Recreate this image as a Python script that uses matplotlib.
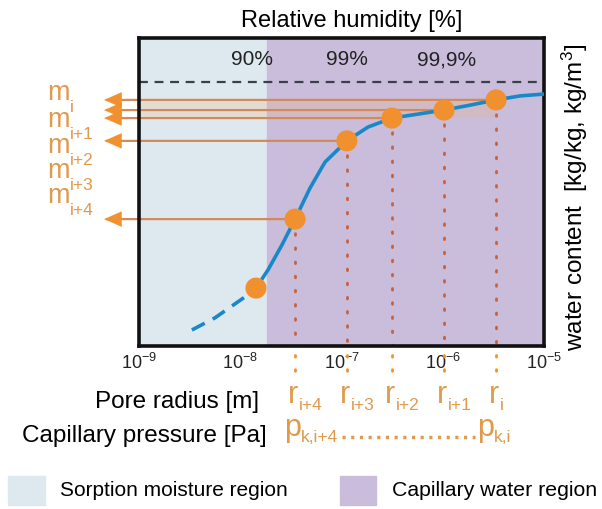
import numpy as np
import matplotlib.pyplot as plt

plt.rcParams['font.family'] = ['Liberation Sans', 'DejaVu Sans']
plt.rcParams['mathtext.fontset'] = 'custom'
plt.rcParams['mathtext.rm'] = 'Liberation Sans'
plt.rcParams['mathtext.it'] = 'Liberation Sans'

# data (pore radius [m], relative water content 0..1)
curve_dash_r = [3.33e-9, 5.6e-9, 1.19e-8]
curve_dash_w = [0.052, 0.091, 0.166]
curve_r = [1.43e-8, 1.88e-8, 2.58e-8, 3.48e-8, 4.89e-8, 6.87e-8, 1.13e-7, 1.83e-7,
           3.15e-7, 5.7e-7, 1.03e-6, 1.86e-6, 3.36e-6, 5.8e-6, 1.0e-5]
curve_w = [0.188, 0.247, 0.328, 0.412, 0.513, 0.597, 0.666, 0.711,
           0.740, 0.753, 0.766, 0.782, 0.799, 0.812, 0.818]
point_r = [1.43e-8, 3.48e-8, 1.13e-7, 3.15e-7, 1.03e-6, 3.36e-6]
point_w = [0.188, 0.412, 0.666, 0.740, 0.766, 0.799]
arrow_idx = [1, 2, 3, 4, 5]
r_subs = ['i+4', 'i+3', 'i+2', 'i+1', 'i']
m_subs = ['i', 'i+1', 'i+2', 'i+3', 'i+4']
m_baseline_px = [100, 127, 153, 178, 203]
rh_labels = ['90%', '99%', '99,9%']
rh_r = [1.3e-8, 1.13e-7, 1.1e-6]
sorption_limit = 1.82e-8
saturation = 0.857

orange = '#f0902e'
label_orange = '#e09a4c'
line_orange = '#d48a58'
dot_red = '#c8603c'
blue = '#1888c8'
light_blue = '#dde9ef'
purple = '#c9bddb'

H = 509
PT = 0.72  # points per pixel at dpi 100

fig = plt.figure(figsize=(6.02, 5.09), dpi=100)
ax = fig.add_axes([139 / 602, 1 - 346 / H, 405 / 602, 308 / H])
ax.set_xscale('log')
ax.set_xlim(1e-9, 1e-5)
ax.set_ylim(0, 1)


def sub_label(main, sub, xy, coords, main_size, sub_size, main_dx, main_ha, sub_dx, sub_dy):
    ax.annotate(main, xy=xy, xycoords=coords, xytext=(main_dx * PT, 0), textcoords='offset points',
                ha=main_ha, va='baseline', fontsize=main_size, color=label_orange, annotation_clip=False)
    ax.annotate(sub, xy=xy, xycoords=coords, xytext=(sub_dx * PT, -sub_dy * PT), textcoords='offset points',
                ha='left', va='baseline', fontsize=sub_size, color=label_orange, annotation_clip=False)


ax.axvspan(1e-9, sorption_limit, color=light_blue, zorder=0)
ax.axvspan(sorption_limit, 1e-5, color=purple, zorder=0)
ax.axhline(saturation, color='#3a3f4a', lw=1.6, ls=(0, (4, 3)), zorder=1)

# faint glow behind the upper arrows
ax.fill_between([1e-9, 3.3e-6], point_w[3], point_w[5], color='#f6b070', alpha=0.22, lw=0, zorder=1)

ax.plot(curve_dash_r, curve_dash_w, color=blue, lw=2.6, ls=(0, (4, 2.5)), zorder=3)
ax.plot(curve_r, curve_w, color=blue, lw=2.6, zorder=3)

# arrows from points to the left
for i in arrow_idx:
    ax.annotate('', xy=(-0.08, point_w[i]), xycoords=('axes fraction', 'data'),
                xytext=(point_r[i], point_w[i]), textcoords='data',
                arrowprops=dict(arrowstyle='-', color=line_orange, lw=1.6, shrinkA=0, shrinkB=0),
                annotation_clip=False, zorder=2)
    ax.annotate('', xy=(-0.086, point_w[i]), xycoords=('axes fraction', 'data'),
                xytext=(-0.03, point_w[i]), textcoords=('axes fraction', 'data'),
                arrowprops=dict(arrowstyle='-|>,head_length=1.25,head_width=0.55',
                                color=orange, lw=0.1, shrinkA=0, shrinkB=0),
                annotation_clip=False, zorder=2)

# vertical dotted lines down to r labels
for i in arrow_idx:
    ax.plot([point_r[i], point_r[i]], [point_w[i], 0], color=dot_red, lw=2,
            ls=(0, (0.6, 4.5)), dash_capstyle='round', zorder=2)
    ax.plot([point_r[i], point_r[i]], [-0.03, -0.115], color=orange, lw=2,
            ls=(0, (0.6, 4.5)), dash_capstyle='round', clip_on=False, zorder=2)

ax.scatter(point_r, point_w, s=230, color=orange, edgecolor='none', zorder=5)

for lab, r in zip(rh_labels, rh_r):
    ax.annotate(lab, xy=(r, H - 65), xycoords=('data', 'figure pixels'), ha='center', va='baseline',
                fontsize=15, color='#222222')

ax.set_xticks([1e-9, 1e-8, 1e-7, 1e-6, 1e-5])
ax.set_xticklabels(['10$^{-9}$', '10$^{-8}$', '10$^{-7}$', '10$^{-6}$', '10$^{-5}$'])
ax.tick_params(axis='x', length=0, pad=5, labelsize=13, colors='#222222')
ax.minorticks_off()
ax.set_yticks([])
for s in ax.spines.values():
    s.set_linewidth(2.6)
    s.set_color('#111111')

fig.text(352 / 602, 1 - 27 / H, 'Relative humidity [%]', ha='center', va='baseline', fontsize=17)
fig.text(575 / 602, 1 - 197 / H, 'water content  [kg/kg, kg/m$^3$]', ha='center', va='center',
         rotation=90, fontsize=17.5)

# m labels on the left
for sub, b in zip(m_subs, m_baseline_px):
    sub_label('m', sub, (47, H - b), 'figure pixels', 19.5, 12.5, 0, 'left', 23, 12)

# r labels under the dotted lines
for sub, i in zip(r_subs, arrow_idx):
    sub_label('r', sub, (point_r[i], H - 403), ('data', 'figure pixels'), 22, 12.5, -2, 'center', 4, 7)

fig.text(259 / 602, 1 - 408 / H, 'Pore radius [m]', ha='right', va='baseline', fontsize=17.5)
fig.text(267 / 602, 1 - 442 / H, 'Capillary pressure [Pa]', ha='right', va='baseline', fontsize=17.5)

sub_label('p', 'k,i+4', (point_r[1], H - 436), ('data', 'figure pixels'), 22, 12.5, -3, 'center', 6, 6)
sub_label('p', 'k,i', (point_r[5], H - 436), ('data', 'figure pixels'), 22, 12.5, -11, 'center', -2, 6)
ax.plot([1.02e-7, 2.1e-6], [-0.295, -0.295], color=label_orange, lw=2.5,
        ls=(0, (0.9, 1.6)), clip_on=False)

# legend boxes
fig.patches.append(plt.Rectangle((8 / 602, 1 - 505 / H), 37 / 602, 29 / H,
                                 transform=fig.transFigure, color=light_blue))
fig.patches.append(plt.Rectangle((340 / 602, 1 - 505 / H), 36 / 602, 29 / H,
                                 transform=fig.transFigure, color=purple))
fig.text(60 / 602, 1 - 491 / H, 'Sorption moisture region', ha='left', va='center', fontsize=15)
fig.text(392 / 602, 1 - 491 / H, 'Capillary water region', ha='left', va='center', fontsize=15.3)

fig.savefig('out.png', dpi=100)
